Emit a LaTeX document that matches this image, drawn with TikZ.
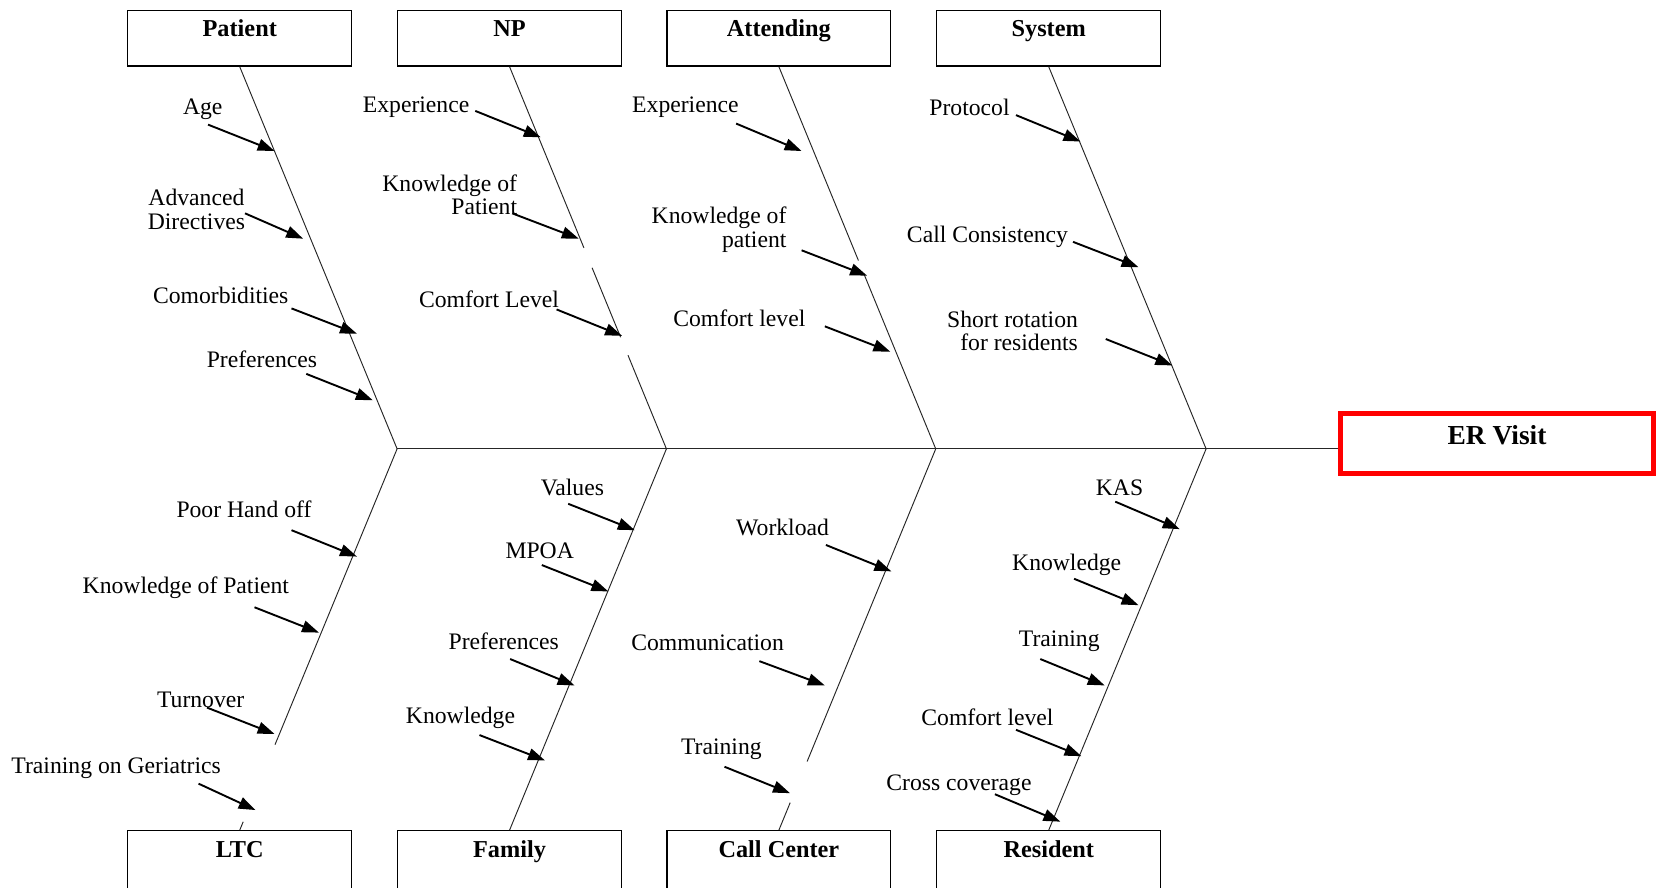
\documentclass[tikz,border=0pt]{standalone}
\usepackage{fontspec}
\setmainfont{Liberation Serif}
\usetikzlibrary{arrows.meta}
\usetikzlibrary{calc}

\begin{document}
\begin{tikzpicture}[x=0.5pt, y=-0.5pt]
	\tikzset{catbox/.style={draw, line width=0.6pt, minimum width=106pt, inner sep=0pt, text height=12.5pt, text depth=14pt, font=\fontsize{11.5}{12}\selectfont\bfseries}}
	\tikzset{catlow/.style={catbox, text depth=24pt}}
	\tikzset{effbox/.style={draw=red, line width=2.35pt, minimum width=148pt, inner sep=0pt, text height=14.75pt, text depth=13.75pt, font=\fontsize{13}{14}\selectfont\bfseries}}
	\tikzset{causetxt/.style={inner sep=0pt, yshift=-1.2pt, font=\fontsize{11.2}{11.2}\selectfont}}
	\tikzset{bone/.style={line width=0.45pt, draw=black!85}}
	\tikzset{hit/.style={-{Triangle[length=8pt, width=5.6pt]}, line width=0.9pt}}
	\useasboundingbox (0,0) rectangle (1568,840);
	\clip (0,0) rectangle (1568,840);
	%categories
	\node[catbox, anchor=north] (patient) at (227,9) {Patient};
	\node[catbox, anchor=north] (np) at (482.5,9) {NP};
	\node[catbox, anchor=north] (attending) at (737.5,9) {Attending};
	\node[catbox, anchor=north] (system) at (993,9) {System};
	\node[catlow, anchor=north] (ltc) at (227,786) {LTC};
	\node[catlow, anchor=north] (family) at (482.5,786) {Family};
	\node[catlow, anchor=north] (callcenter) at (737.5,786) {Call Center};
	\node[catlow, anchor=north] (resident) at (993,786) {Resident};
	\node[effbox] (er) at (1417.5,420) {ER Visit};
	%joints on the spine
	\coordinate (j1) at (376,425);
	\coordinate (j2) at (631,425);
	\coordinate (j3) at (886,425);
	\coordinate (j4) at (1142,425);
	%bones
	\draw[bone] (j1) -- (j1 -| er.west);
	\draw[bone] (patient.south) -- (j1);
	\draw[bone] (np.south) -- ($(np.south)!0.474!(j2)$);
	\draw[bone] ($(np.south)!0.526!(j2)$) -- ($(np.south)!0.708!(j2)$);
	\draw[bone] ($(np.south)!0.755!(j2)$) -- (j2);
	\draw[bone] (attending.south) -- ($(attending.south)!0.507!(j3)$);
	\draw[bone] ($(attending.south)!0.543!(j3)$) -- (j3);
	\draw[bone] (system.south) -- (j4);
	\draw[bone] (j1) -- ($(j1)!0.776!(ltc.north)$);
	\draw[bone] ($(j1)!0.978!(ltc.north)$) -- (ltc.north);
	\draw[bone] (j2) -- (family.north);
	\draw[bone] (j3) -- ($(j3)!0.82!(callcenter.north)$);
	\draw[bone] ($(j3)!0.928!(callcenter.north)$) -- (callcenter.north);
	\draw[bone] (j4) -- (resident.north);
	%causes: patient
	\node[causetxt] (age) at (192,101) {Age};
	\node[causetxt, align=center] (advdir) at (186,196) {Advanced\\Directives};
	\node[causetxt] (comorb) at (209,277) {Comorbidities};
	\node[causetxt] (patpref) at (248,338) {Preferences};
	\coordinate (age0) at (197,118); \coordinate (age1) at (260,143);
	\coordinate (advdir0) at (232,202); \coordinate (advdir1) at (287,226);
	\coordinate (comorb0) at (276,292); \coordinate (comorb1) at (338,316);
	\coordinate (patpref0) at (290,354); \coordinate (patpref1) at (353,379);
	%causes: np
	\node[causetxt] (npexp) at (394,99) {Experience};
	\node[causetxt, align=right, anchor=east] (npknow) at (490,182) {Knowledge of\\Patient};
	\node[causetxt] (npcomf) at (463,281) {Comfort Level};
	\coordinate (npexp0) at (450,105); \coordinate (npexp1) at (512,130);
	\coordinate (npknow0) at (485,202); \coordinate (npknow1) at (548,226);
	\coordinate (npcomf0) at (527,293); \coordinate (npcomf1) at (589,318);
	%causes: attending
	\node[causetxt] (atexp) at (649,99) {Experience};
	\node[causetxt, align=right, anchor=east] (atknow) at (745,215) {Knowledge of\\patient};
	\node[causetxt] (atcomf) at (700,299) {Comfort level};
	\coordinate (atexp0) at (697,117); \coordinate (atexp1) at (759,143);
	\coordinate (atknow0) at (759,237); \coordinate (atknow1) at (821,261);
	\coordinate (atcomf0) at (781,309); \coordinate (atcomf1) at (843,333);
	%causes: system
	\node[causetxt] (protocol) at (918,99) {Protocol};
	\node[causetxt] (callcons) at (935,222) {Call Consistency};
	\node[causetxt, align=right, anchor=east] (shortrot) at (1021,311) {Short rotation\\for residents};
	\coordinate (protocol0) at (962,109); \coordinate (protocol1) at (1023,134);
	\coordinate (callcons0) at (1016,229); \coordinate (callcons1) at (1078,253);
	\coordinate (shortrot0) at (1047,321); \coordinate (shortrot1) at (1110,346);
	%causes: ltc
	\node[causetxt] (handoff) at (231,480) {Poor Hand off};
	\node[causetxt] (ltcknow) at (176,554) {Knowledge of Patient};
	\node[causetxt] (turnover) at (190,660) {Turnover};
	\node[causetxt] (geriat) at (110,725) {Training on Geriatrics};
	\coordinate (handoff0) at (276,502); \coordinate (handoff1) at (338,527);
	\coordinate (ltcknow0) at (241,575); \coordinate (ltcknow1) at (302,599);
	\coordinate (turnover0) at (196,670); \coordinate (turnover1) at (260,695);
	\coordinate (geriat0) at (188,742); \coordinate (geriat1) at (242,767);
	%causes: family
	\node[causetxt] (values) at (542,459) {Values};
	\node[causetxt] (mpoa) at (511,519) {MPOA};
	\node[causetxt] (fampref) at (477,605) {Preferences};
	\node[causetxt] (famknow) at (436,677) {Knowledge};
	\coordinate (values0) at (538,477); \coordinate (values1) at (601,502);
	\coordinate (mpoa0) at (513,535); \coordinate (mpoa1) at (576,560);
	\coordinate (fampref0) at (483,624); \coordinate (fampref1) at (544,649);
	\coordinate (famknow0) at (454,696); \coordinate (famknow1) at (516,720);
	%causes: call center
	\node[causetxt] (workload) at (741,497) {Workload};
	\node[causetxt] (comm) at (670,606) {Communication};
	\node[causetxt] (cctrain) at (683,707) {Training};
	\coordinate (workload0) at (782,516); \coordinate (workload1) at (844,541);
	\coordinate (comm0) at (719,626); \coordinate (comm1) at (781,649);
	\coordinate (cctrain0) at (686,726); \coordinate (cctrain1) at (748,751);
	%causes: resident
	\node[causetxt] (kas) at (1060,459) {KAS};
	\node[causetxt] (resknow) at (1010,532) {Knowledge};
	\node[causetxt] (restrain) at (1003,605) {Training};
	\node[causetxt] (rescomf) at (935,677) {Comfort level};
	\node[causetxt] (crosscov) at (908,741) {Cross coverage};
	\coordinate (kas0) at (1056,475); \coordinate (kas1) at (1117,501);
	\coordinate (resknow0) at (1017,548); \coordinate (resknow1) at (1078,573);
	\coordinate (restrain0) at (985,624); \coordinate (restrain1) at (1046,649);
	\coordinate (rescomf0) at (962,691); \coordinate (rescomf1) at (1024,716);
	\coordinate (crosscov0) at (942,752); \coordinate (crosscov1) at (1004,778);
	%arrows
	\foreach \c in {age, advdir, comorb, patpref, npexp, npknow, npcomf, atexp, atknow, atcomf, protocol, callcons, shortrot, handoff, ltcknow, turnover, geriat, values, mpoa, fampref, famknow, workload, comm, cctrain, kas, resknow, restrain, rescomf, crosscov}
		\draw[hit] (\c0) -- (\c1);
\end{tikzpicture}
\end{document}
